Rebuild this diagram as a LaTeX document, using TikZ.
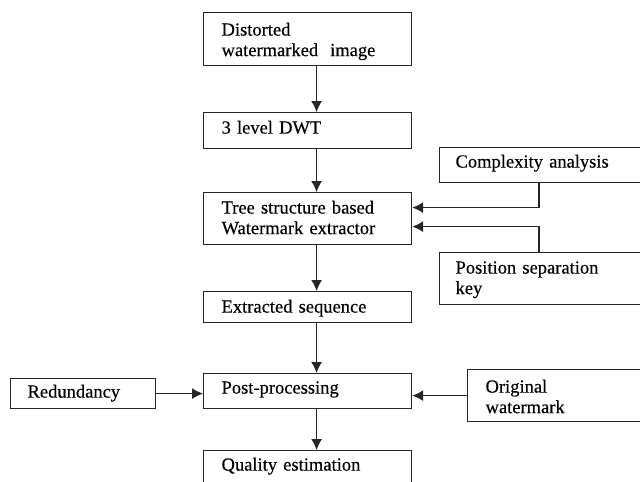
\documentclass[tikz,border=0pt]{standalone}
\usepackage{fontspec}
\setmainfont{Liberation Serif}[BoldFont={Liberation Serif}, BoldFeatures={FakeBold=0.35}]
\usetikzlibrary{arrows.meta,calc}
\begin{document}
\begin{tikzpicture}[x=1pt,y=-1pt,
  box/.style={draw=black!85, line width=1.2pt, rectangle, anchor=north west, align=left,
    inner ysep=0pt, inner xsep=18pt, font=\fontsize{18.5}{20.5}\selectfont\bfseries},
  arr/.style={draw=black!85, line width=1.2pt, -{Latex[length=11pt,width=11pt]}}]
\useasboundingbox (0,0) rectangle (640,482);
\clip (0,0) rectangle (640,482);
% main column
\node[box, text width=172pt, text height=23pt, text depth=30pt] (dist) at (203,12) {Distorted\\watermarked\hspace{12pt}image};
\node[box, text width=172pt, text height=21pt, text depth=15pt] (dwt) at (203,112) {3 level DWT};
\node[box, text width=172pt, text height=21pt, text depth=31pt] (tree) at (203,192) {Tree structure based\\Watermark extractor};
\node[box, text width=172pt, text height=21pt, text depth=10pt] (ext) at (203,291) {Extracted sequence};
\node[box, text width=172pt, text height=20pt, text depth=15pt] (post) at (203,373) {Post-processing};
\node[box, text width=172pt, text height=20pt, text depth=30pt] (qual) at (203,450) {Quality estimation};
% side boxes
\node[box, inner xsep=16pt, text width=189pt, text height=20pt, text depth=15pt] (comp) at (439,147) {Complexity analysis};
\node[box, inner xsep=16pt, text width=189pt, text height=21pt, text depth=31pt] (pos) at (439,252) {Position separation\\key};
\node[box, inner xsep=17pt, text width=111pt, text height=19pt, text depth=11pt] (red) at (10,378) {Redundancy};
\node[box, inner xsep=18pt, text width=157pt, text height=23pt, text depth=29pt] (orig) at (467,369) {Original\\watermark};
% connectors
\draw[arr] ([xshift=9pt]dist.south) -- ([xshift=9pt]dwt.north);
\draw[arr] ([xshift=9pt]dwt.south) -- ([xshift=9pt]tree.north);
\draw[arr] ([xshift=9pt]tree.south) -- ([xshift=9pt]ext.north);
\draw[arr] ([xshift=9pt]ext.south) -- ([xshift=9pt]post.north);
\draw[arr] ([xshift=9pt]post.south) -- ([xshift=9pt]qual.north);
\draw[arr] ($(comp.south west)+(100,0)$) |- ([yshift=11pt]tree.east);
\draw[arr] ($(pos.north west)+(100,0)$) |- ([yshift=-8pt]tree.east);
\draw[arr] (red.east) -- (red.east -| post.west);
\draw[arr] (orig.west) -- (orig.west -| post.east);
\end{tikzpicture}
\end{document}
